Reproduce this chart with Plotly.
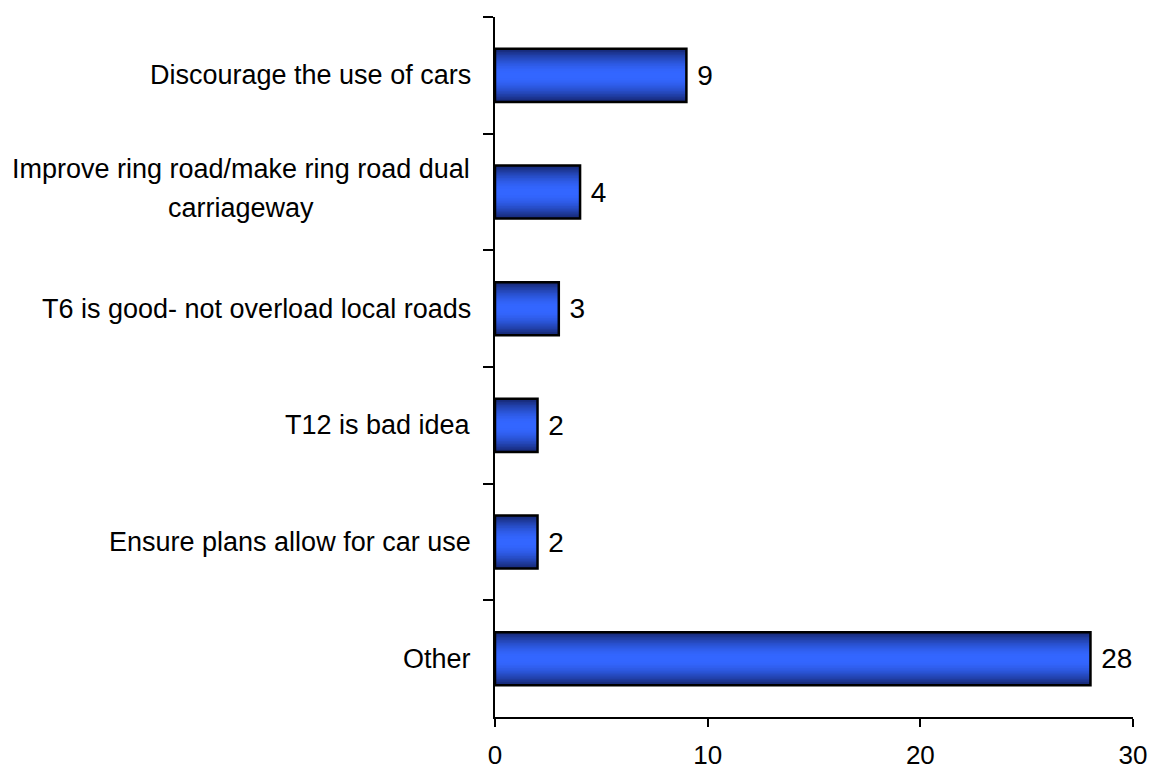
import plotly.graph_objects as go

categories = [
    "Discourage the use of cars",
    "Improve ring road/make ring road dual<br>carriageway",
    "T6 is good- not overload local roads",
    "T12 is bad idea",
    "Ensure plans allow for car use",
    "Other",
]
values = [9, 4, 3, 2, 2, 28]
x_ticks = [0, 10, 20, 30]

FONT = "Liberation Sans, Arial, sans-serif"
BAR_W = 0.455
LINE_GAP = 39

fig = go.Figure()

# simulated vertical gradient: stacked overlay layers, dark edges -> bright centre
n_layers = 16
dark = (22, 40, 115)
bright = (51, 102, 255)
for i in range(n_layers):
    t = 1 - i / (n_layers - 1)          # 1 at outer edge, 0 at centre
    w = BAR_W * (0.12 + 0.88 * t)
    k = t ** 1.6
    col = tuple(int(round(bright[j] + (dark[j] - bright[j]) * k)) for j in range(3))
    fig.add_trace(go.Bar(
        x=values, y=categories, orientation="h", width=w,
        marker=dict(color="rgb(%d,%d,%d)" % col, line=dict(width=0)),
        showlegend=False, hoverinfo="skip",
    ))

# outline + value labels
fig.add_trace(go.Bar(
    x=values, y=categories, orientation="h", width=BAR_W,
    marker=dict(color="rgba(0,0,0,0)", line=dict(color="black", width=2.5)),
    text=[" %d" % v for v in values], textposition="outside", cliponaxis=False,
    textfont=dict(family=FONT, size=28, color="black"),
    showlegend=False,
))

# category labels as annotations; multi-line labels are centred line by line
for c in categories:
    lines = c.split("<br>")
    n = len(lines)
    if n == 1:
        fig.add_annotation(
            x=0, xref="paper", y=c, yref="y", text=c, showarrow=False,
            xanchor="right", xshift=-22,
            font=dict(family=FONT, size=27, color="black"),
        )
    else:
        for k, line in enumerate(lines):
            fig.add_annotation(
                x=-0.398, xref="paper", y=c, yref="y", text=line, showarrow=False,
                xanchor="center", yshift=((n - 1) / 2 - k) * LINE_GAP + 4,
                font=dict(family=FONT, size=27, color="black"),
            )

fig.update_layout(
    width=1151, height=769,
    margin=dict(l=495, r=18, t=17, b=52, autoexpand=False),
    barmode="overlay",
    plot_bgcolor="white", paper_bgcolor="white",
    font=dict(family=FONT, size=27, color="black"),
)
fig.update_xaxes(
    range=[0, 30], tickvals=x_ticks, showgrid=False, zeroline=False,
    showline=True, linecolor="black", linewidth=2, automargin=False,
    ticks="outside", ticklen=8, tickwidth=2, tickcolor="black",
    tickfont=dict(family=FONT, size=26, color="black"),
    ticklabelstandoff=6,
)
fig.update_yaxes(
    categoryorder="array", categoryarray=categories,
    range=[len(categories) - 0.5, -0.5], automargin=False,
    showgrid=False, zeroline=False, showline=True, linecolor="black", linewidth=2,
    ticks="outside", ticklen=10, tickwidth=2, tickcolor="black",
    tickson="boundaries", showticklabels=False,
)

fig.write_html("out.html")
